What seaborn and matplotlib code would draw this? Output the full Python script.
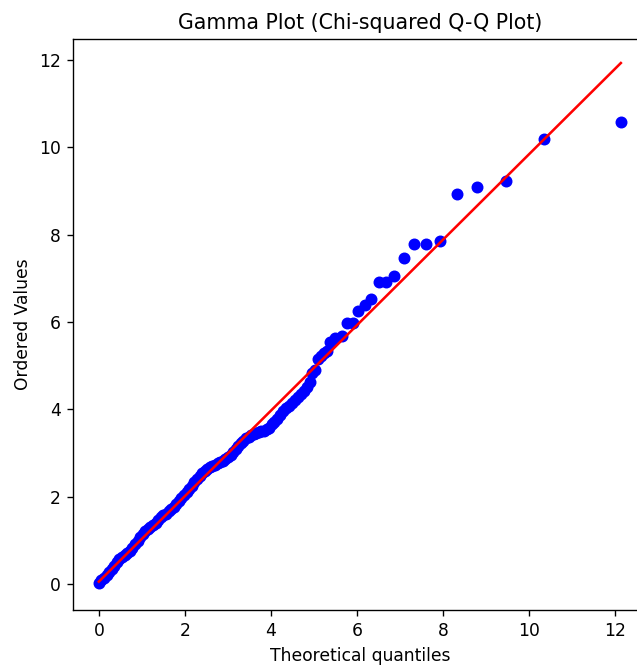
import matplotlib
matplotlib.use("Agg")
import matplotlib.pyplot as plt
import seaborn as sns
import pandas as pd

# Theoretical quantiles (x) and ordered values (y)
theoretical = [
    0.00, 0.06, 0.12, 0.18, 0.24, 0.30, 0.36, 0.42, 0.48, 0.54,
    0.60, 0.66, 0.72, 0.78, 0.84, 0.90, 0.96, 1.02, 1.08, 1.14,
    1.20, 1.26, 1.32, 1.38, 1.44, 1.50, 1.56, 1.62, 1.68, 1.74,
    1.80, 1.86, 1.92, 1.98, 2.04, 2.10, 2.16, 2.22, 2.28, 2.34,
    2.40, 2.46, 2.52, 2.58, 2.64, 2.70, 2.76, 2.82, 2.88, 2.94,
    3.00, 3.06, 3.12, 3.18, 3.24, 3.30, 3.36, 3.42, 3.48, 3.54,
    3.60, 3.66, 3.72, 3.78, 3.84, 3.90, 3.96, 4.02, 4.08, 4.14,
    4.20, 4.27, 4.34, 4.41, 4.48, 4.55, 4.62, 4.69, 4.76, 4.83,
    4.90, 4.96, 5.03, 5.10, 5.17, 5.24, 5.31, 5.38, 5.49, 5.66,
    5.76, 5.91, 6.02, 6.18, 6.32, 6.50, 6.67, 6.86, 7.09, 7.33,
    7.60, 7.93, 8.32, 8.78, 9.45, 10.35, 12.13,
]
ordered = [
    0.02, 0.08, 0.14, 0.21, 0.28, 0.34, 0.41, 0.49, 0.56, 0.61,
    0.66, 0.71, 0.76, 0.83, 0.91, 0.99, 1.07, 1.14, 1.20, 1.26,
    1.31, 1.35, 1.40, 1.46, 1.52, 1.57, 1.61, 1.66, 1.71, 1.76,
    1.82, 1.89, 1.96, 2.03, 2.10, 2.17, 2.25, 2.33, 2.41, 2.47,
    2.53, 2.58, 2.63, 2.67, 2.70, 2.73, 2.76, 2.79, 2.82, 2.86,
    2.90, 2.95, 3.01, 3.08, 3.15, 3.22, 3.28, 3.33, 3.37, 3.40,
    3.43, 3.45, 3.47, 3.49, 3.51, 3.54, 3.58, 3.65, 3.71, 3.78,
    3.86, 3.95, 4.02, 4.08, 4.14, 4.20, 4.27, 4.34, 4.42, 4.50,
    4.62, 4.82, 4.90, 5.15, 5.22, 5.28, 5.34, 5.55, 5.64, 5.68,
    5.97, 5.98, 6.26, 6.39, 6.52, 6.91, 6.91, 7.05, 7.47, 7.78,
    7.78, 7.85, 8.92, 9.08, 9.23, 10.19, 10.59,
]

# Fitted reference line end points
fit_x = [0.00, 12.13]
fit_y = [0.05, 11.93]

title = "Gamma Plot (Chi-squared Q-Q Plot)"
xlabel = "Theoretical quantiles"
ylabel = "Ordered Values"
ticks = [0, 2, 4, 6, 8, 10, 12]

pts = pd.DataFrame({"x": theoretical, "y": ordered})
fit = pd.DataFrame({"x": fit_x, "y": fit_y})

DPI = 123
fig = plt.figure(figsize=(637 / DPI, 668 / DPI), dpi=DPI)
ax = fig.add_axes([0.1141, 0.0868, 0.9031, 0.8548])

sns.scatterplot(data=pts, x="x", y="y", ax=ax, color="blue", s=36,
                edgecolor="blue", linewidth=1, legend=False, zorder=2)
sns.lineplot(data=fit, x="x", y="y", ax=ax, color="red", linewidth=1.5,
             zorder=3)

ax.set_xlim(-0.6075, 12.76)
ax.set_ylim(-0.60, 12.48)
ax.set_xticks(ticks)
ax.set_yticks(ticks)
ax.set_title(title, fontsize=12)
ax.set_xlabel(xlabel)
ax.set_ylabel(ylabel)

fig.savefig("out.png", dpi=DPI)
